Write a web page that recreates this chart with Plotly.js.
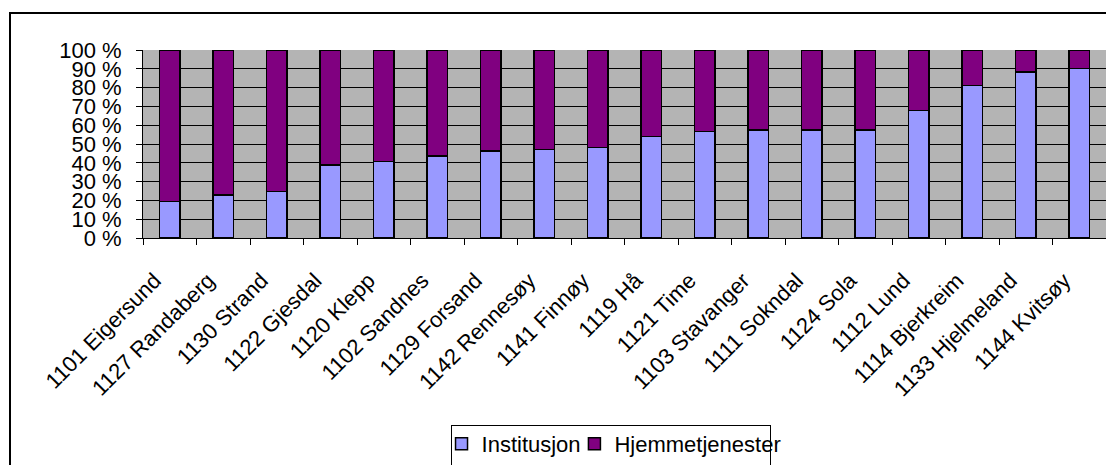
<!DOCTYPE html>
<html>
<head>
<meta charset="utf-8">
<script src="https://cdn.plot.ly/plotly-3.0.1.min.js"></script>
<style>
html,body{margin:0;padding:0;background:#fff;overflow:hidden;}
#chart{width:1106px;height:465px;position:absolute;left:0;top:0;}
#frame{position:absolute;left:9px;top:12px;width:1200px;height:600px;border-left:2px solid #000;border-top:2px solid #000;pointer-events:none;}
#legframe{position:absolute;left:451px;top:425px;width:318px;height:60px;border:1px solid #000;pointer-events:none;}
</style>
</head>
<body>
<div id="chart"></div>
<div id="frame"></div>
<div id="legframe"></div>
<script>
const categories = ["1101 Eigersund","1127 Randaberg","1130 Strand","1122 Gjesdal","1120 Klepp","1102 Sandnes","1129 Forsand","1142 Rennesøy","1141 Finnøy","1119 Hå","1121 Time","1103 Stavanger","1111 Sokndal","1124 Sola","1112 Lund","1114 Bjerkreim","1133 Hjelmeland","1144 Kvitsøy"];
const institusjon = [19.3, 23.0, 24.8, 38.9, 40.8, 43.6, 46.3, 47.2, 48.2, 53.9, 56.7, 57.4, 57.4, 57.4, 67.9, 81.0, 88.4, 90.1];
const hjemmetjenester = institusjon.map(v => +(100 - v).toFixed(1));
const yTicks = [0,10,20,30,40,50,60,70,80,90,100];

const font = {family: "Liberation Sans, Arial, sans-serif", size: 22, color: "#000"};

const traces = [
  {type: "bar", name: "Institusjon", x: categories, y: institusjon, legend: "legend",
   marker: {color: "#9999FF", line: {color: "#000", width: 1.5}}},
  {type: "bar", name: "Hjemmetjenester", x: categories, y: hjemmetjenester, legend: "legend2",
   marker: {color: "#800080", line: {color: "#000", width: 1.5}}}
];

const legCommon = {
  orientation: "h", yanchor: "top", xanchor: "left", y: -0.985,
  bgcolor: "rgba(0,0,0,0)", borderwidth: 0, font: font, itemwidth: 30
};

const layout = {
  width: 1106, height: 465,
  margin: {l: 143, r: 0, t: 50, b: 226, pad: 0},
  paper_bgcolor: "rgba(255,255,255,0)",
  plot_bgcolor: "#b4b4b4",
  barmode: "stack",
  bargap: 0.615,
  font: font,
  showlegend: true,
  legend: Object.assign({}, legCommon, {x: 0.310}),
  legend2: Object.assign({}, legCommon, {x: 0.448}),
  xaxis: {
    type: "category", tickangle: -45, tickson: "boundaries",
    ticks: "outside", ticklen: 6, tickcolor: "#000", tickwidth: 1,
    ticklabelstandoff: 20, ticklabelshift: -15,
    showline: true, linecolor: "#000", linewidth: 1,
    showgrid: false, tickfont: font, fixedrange: true
  },
  yaxis: {
    range: [0, 100], tickvals: yTicks, ticktext: yTicks.map(v => v + " %"),
    ticks: "outside", ticklen: 6, tickcolor: "#000", tickwidth: 1,
    ticklabelstandoff: 10,
    showline: true, linecolor: "#000", linewidth: 1,
    showgrid: true, gridcolor: "#000", gridwidth: 1,
    zeroline: false, tickfont: font, fixedrange: true
  }
};

Plotly.newPlot("chart", traces, layout, {displayModeBar: false, staticPlot: true});
</script>
</body>
</html>
